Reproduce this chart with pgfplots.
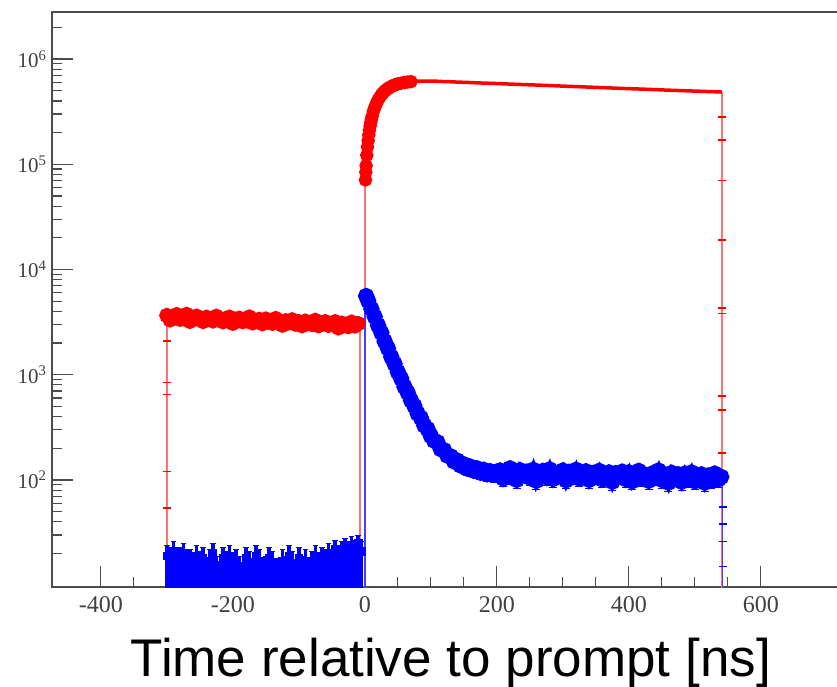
\documentclass[border=0pt]{standalone}
\usepackage{pgfplots}
\pgfplotsset{compat=1.18}
\usepackage{pgfplotstable}
\usepackage{fontspec}
\setmainfont{Liberation Serif}
\newfontfamily\labelfont{Liberation Sans}

\pgfplotstableread{
x y
-300 3658
-295 3316
-290 3572
-285 3724
-280 3363
-275 3411
-270 3743
-265 3211
-260 3477
-255 3601
-250 3335
-245 3202
-240 3515
-235 3401
-230 3240
-225 3591
-220 3325
-215 3183
-210 3430
-205 3525
-200 3078
-195 3373
-190 3439
-185 3192
-180 3259
-175 3534
-170 3107
-165 3278
-160 3354
-155 3050
-150 3382
-145 3154
-140 3078
-135 3420
-130 3211
-125 2955
-120 3259
-115 3107
-110 3325
-105 3021
-100 3192
-95 2917
-90 3230
-85 3097
-80 3002
-75 3287
-70 2917
-65 3107
-60 3192
-55 2945
-50 2993
-45 3192
-40 2784
-35 3088
-30 3012
-25 2860
-20 3164
-15 2907
-10 3059
}\redpre

\pgfplotstableread{
x y ep em
-300 19 5 12
-295 16 5 9
-290 21 5 14
-285 14 4 7
-280 18 5 11
-275 20 5 13
-270 15 4 8
-265 17 5 10
-260 13 4 6
-255 19 5 12
-250 16 5 9
-245 18 5 11
-240 14 4 7
-235 17 5 10
-230 20 5 13
-225 15 4 8
-220 13 4 6
-215 18 5 11
-210 16 5 9
-205 19 5 12
-200 14 4 7
-195 17 5 10
-190 15 4 8
-185 12 4 5
-180 18 5 11
-175 16 5 9
-170 14 4 7
-165 19 5 12
-160 17 5 10
-155 13 4 6
-150 15 4 8
-145 18 5 11
-140 16 5 9
-135 14 4 7
-130 12 4 5
-125 17 5 10
-120 15 4 8
-115 19 5 12
-110 16 5 9
-105 13 4 6
-100 18 5 11
-95 15 4 8
-90 17 5 10
-85 14 4 7
-80 16 5 9
-75 19 5 12
-70 15 4 8
-65 18 5 11
-60 17 5 10
-55 20 5 13
-50 16 5 9
-45 22 5 15
-40 19 5 12
-35 21 5 14
-30 23 5 16
-25 20 5 13
-20 24 5 17
-15 22 5 15
-10 25 5 18
-5 21 5 14
}\bluepre

\pgfplotstableread{
x y e
2 5600 75
5 5040 71
10 4220 65
15 3560 60
20 2950 54
25 2510 50
30 2080 46
35 1780 42
40 1480 38
45 1270 36
50 1060 33
55 920 30
60 770 28
65 675 26
70 570 24
75 505 22
80 428 21
85 388 20
90 330 18
95 305 17
100 262 17
105 236 17
110 228 17
115 196 16
120 192 16
125 170 16
130 168 16
135 150 16
140 153 16
145 137 16
150 141 16
155 128 16
160 134 16
165 122 16
170 129 16
175 117 16
180 125 16
185 113 16
190 121 16
195 112 16
200 120 16
205 123 16
210 103 16
215 118 16
220 129 16
225 108 16
230 100 16
235 124 16
240 111 16
245 120 16
250 105 16
255 125 16
260 98 16
265 115 16
270 122 16
275 106 16
280 126 16
285 102 16
290 116 16
295 110 16
300 123 16
305 99 16
310 119 16
315 107 16
320 125 16
325 103 16
330 112 16
335 121 16
340 100 16
345 116 16
350 107 16
355 122 16
360 101 16
365 113 16
370 118 16
375 96 16
380 116 16
385 109 16
390 120 16
395 102 16
400 118 16
405 97 16
410 111 16
415 122 16
420 103 16
425 112 16
430 98 16
435 115 16
440 105 16
445 123 16
450 100 16
455 112 16
460 94 16
465 117 16
470 105 16
475 113 16
480 96 16
485 115 16
490 101 16
495 118 16
500 97 16
505 109 16
510 113 16
515 94 16
520 110 16
525 99 16
530 115 16
535 101 16
540 107 16
}\bluepost

\begin{document}
\begin{tikzpicture}
\begin{axis}[
  at={(52pt,99pt)}, anchor=south west,
  scale only axis, width=788pt, height=575pt,
  xmin=-474, xmax=720,
  ymode=log, ymin=9.6, ymax=2.8e6,
  clip=true,
  axis line style={black!70, line width=1.6pt},
  tick style={black!70, line width=1.2pt},
  tick align=inside,
  major tick length=21pt, minor tick length=10pt,
  xtick pos=left, ytick pos=left,
  xtick={-400,-200,0,200,400,600},
  xticklabels={-400,-200,0,200,400,600},
  minor x tick num=3,
  ytick={100,1000,10000,100000,1000000},
  yticklabels={10\textsuperscript{2},10\textsuperscript{3},10\textsuperscript{4},10\textsuperscript{5},10\textsuperscript{6}},
  minor ytick={20,30,40,50,60,70,80,90,200,300,400,500,600,700,800,900,2000,3000,4000,5000,6000,7000,8000,9000,2e4,3e4,4e4,5e4,6e4,7e4,8e4,9e4,2e5,3e5,4e5,5e5,6e5,7e5,8e5,9e5,2e6},
  xticklabel style={font=\fontsize{24}{24}\selectfont, text=black!75, anchor=base, yshift=-25pt},
  yticklabel style={font=\fontsize{21}{21}\selectfont, text=black!75, xshift=-2pt},
  xlabel={Time relative to prompt [ns]},
  xlabel style={at={(axis description cs:0.506,0)}, anchor=base, yshift=-89pt, font=\labelfont\fontsize{53}{53}\selectfont, text=black},
]
% red histogram edges
\addplot[red!55, line width=2pt] coordinates {(-300,1) (-300,3658)};
\addplot[red!55, line width=2pt] coordinates {(-10,3059) (-8,3059) (-8,1)};
\addplot[red!55, line width=2pt] coordinates {(0,1) (0,71000)};
\addplot[red!55, line width=2pt] coordinates {(541,486000) (541,1)};
% red before prompt
\addplot[red, line width=7pt, mark=*, mark size=4pt] table[x=x,y=y] {\redpre};
% red after prompt: rise
\addplot[red, line width=6pt, mark=*, mark size=3.6pt] coordinates {
(1,71000) (1.5,84000) (2,97000) (3,122000) (4,146000) (5,168000) (6,190000) (7,211000) (8,231000) (9,250000) (10,268000) (11,285000) (13,318000) (14.5,339000) (16,359000) (18,384000) (20,407000) (22.5,432000) (25,456000) (27.5,476000) (30,494000) (32.5,510000) (35,524000) (37.5,537000) (40,548000) (42.5,558000) (45,566000) (47.5,574000) (50,580000) (55,590000) (60,599000) (65,605000) (70,610000)};
% red plateau
\addplot[red, line width=3.5pt] coordinates {
(70,610000) (75,613000) (80,616000) (85,617000) (90,618000) (95,618000) (100,618000) (110,615000) (120,611000) (130,608000) (140,604000) (150,601000) (160,598000) (170,594000) (180,591000) (190,588000) (200,585000) (220,578000) (240,572000) (260,566000) (280,560000) (300,553000) (320,547000) (340,541000) (360,535000) (380,529000) (400,523000) (420,518000) (440,512000) (460,506000) (480,501000) (500,496000) (520,491000) (541,486000)};
% red partial-bin points
\addplot[red, only marks, mark=-, mark size=4pt, line width=1.5pt] coordinates {
(541,280000) (541,170000) (541,70000) (541,19000) (541,4300) (541,3800) (541,630) (541,460) (541,180)
(-300,2100) (-300,840) (-300,650) (-300,120) (-300,54)};
% blue edges
\addplot[blue!75, line width=1.8pt] coordinates {(0,1) (0,5600)};
\addplot[blue!75, line width=1.8pt] coordinates {(542,107) (542,1)};
% blue before prompt
\addplot[blue, line width=3pt, mark=square*, mark size=2.8pt,
  error bars/.cd, y dir=both, y explicit, error bar style={line width=3.6pt}]
  table[x=x,y=y,y error plus=ep,y error minus=em] {\bluepre};
% blue after prompt
\addplot[blue, line width=8pt, mark=*, mark size=4pt,
  error bars/.cd, y dir=both, y explicit, error bar style={line width=2.2pt}]
  table[x=x,y=y,y error=e] {\bluepost};
\addplot[blue, only marks, mark=-, mark size=4pt, line width=1.5pt] coordinates {
(542,96) (542,55) (542,38) (542,26) (542,15)};
\end{axis}
\pgfresetboundingbox
\useasboundingbox (0,0) rectangle (837pt,686pt);
\end{tikzpicture}
\end{document}
